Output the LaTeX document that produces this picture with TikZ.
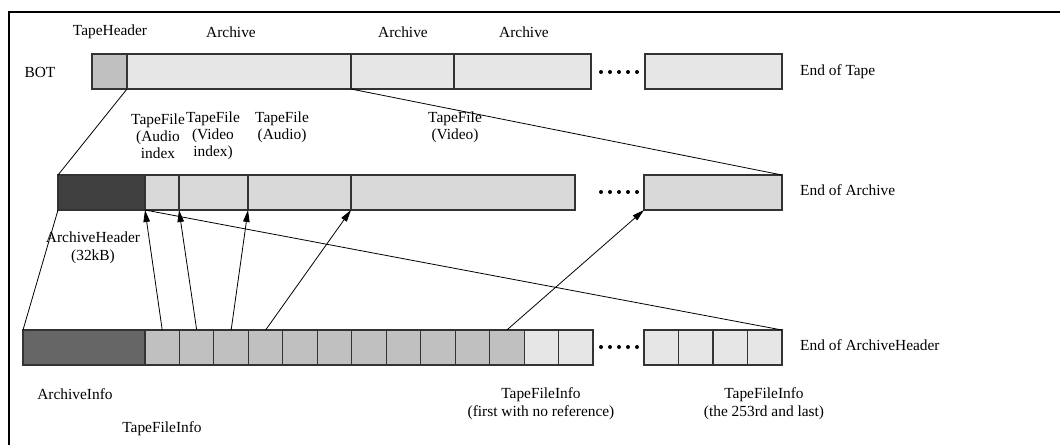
\documentclass[tikz,border=0pt]{standalone}
\usepackage{fontspec}
\setmainfont{Liberation Serif}
\usetikzlibrary{arrows.meta}
\definecolor{hdrgrey}{HTML}{C0C0C0}
\definecolor{lightgrey}{HTML}{E6E6E6}
\definecolor{midlight}{HTML}{D9D9D9}
\definecolor{darkhdr}{HTML}{404040}
\definecolor{infodark}{HTML}{666666}
\begin{document}
\begin{tikzpicture}[x=1pt,y=-1pt,
  every node/.style={font=\fontsize{15.4}{18}\selectfont},
  cell/.style={rectangle, draw=black!80, line width=1.1pt, inner sep=0pt, outer sep=0pt,
               anchor=north west, minimum height=35pt},
  lbl/.style={inner sep=0pt, align=center},
  conn/.style={line width=0.8pt},
  ptr/.style={conn, -{Triangle[length=12pt,width=6.5pt]}},
  frame/.style={line width=2pt}
]
\useasboundingbox (0,0) rectangle (1060,445);

% outer frame
\draw[frame] (9,445) -- (9,12) -- (1061,12);

% ---------- tape ----------
\node[cell, fill=hdrgrey,   minimum width=35pt]  (th)  at (92,54)  {};
\node[cell, fill=lightgrey, minimum width=224pt] (ar1) at (127,54) {};
\node[cell, fill=lightgrey, minimum width=103pt] (ar2) at (351,54) {};
\node[cell, fill=lightgrey, minimum width=137pt] (ar3) at (454,54) {};
\node[cell, fill=lightgrey, minimum width=137pt] (tl)  at (645,54) {};
\foreach \k in {0,...,4} \fill (601+9*\k,72) circle (2pt);

\node[lbl] (bot)  at (40,72)  {BOT};
\node[lbl, anchor=west] (eot) at (800,72) {End of Tape};
\node[lbl] (lth)  at (110,32) {TapeHeader};
\node[lbl] (lar1) at (231,32) {Archive};
\node[lbl] (lar2) at (403,32) {Archive};
\node[lbl] (lar3) at (524,32) {Archive};

% ---------- archive ----------
\node[cell, fill=darkhdr,  minimum width=87pt]  (ahd) at (58,175)  {};
\node[cell, fill=midlight, minimum width=34pt]  (af1) at (145,175) {};
\node[cell, fill=midlight, minimum width=69pt]  (af2) at (179,175) {};
\node[cell, fill=midlight, minimum width=103pt] (af3) at (248,175) {};
\node[cell, fill=midlight, minimum width=224pt] (af4) at (351,175) {};
\node[cell, fill=midlight, minimum width=138pt] (al)  at (644,175) {};
\foreach \k in {0,...,4} \fill (601+9*\k,192) circle (2pt);

\node[lbl, anchor=west] (eoa) at (800,190) {End of Archive};
\node[lbl] (ltf1) at (158,136) {TapeFile\\[-1pt](Audio\\[-1pt]index};
\node[lbl] (ltf2) at (213,136) {TapeFile\\[-1pt](Video\\[-1pt]index)};
\node[lbl] (ltf3) at (282,127) {TapeFile\\[-1pt](Audio)};
\node[lbl] (ltf4) at (455,127) {TapeFile\\[-1pt](Video)};
\node[lbl] (lahd) at (93,248) {ArchiveHeader\\(32kB)};

% ---------- archive header ----------
\node[cell, fill=infodark, minimum width=122pt] (ai) at (23,330) {};
\foreach \i in {1,...,11}
  \node[cell, fill=hdrgrey, minimum width=34.46pt] (c\i) at ({145+(\i-1)*34.46},330) {};
\foreach \i in {12,13}
  \node[cell, fill=lightgrey, minimum width=34.46pt] (c\i) at ({145+(\i-1)*34.46},330) {};
\foreach \i in {1,...,4}
  \node[cell, fill=lightgrey, minimum width=34.5pt] (d\i) at ({644+(\i-1)*34.5},330) {};
\foreach \k in {0,...,4} \fill (601+9*\k,347) circle (2pt);

\node[lbl, anchor=west] (eoh) at (800,345) {End of ArchiveHeader};
\node[lbl] (lai)  at (75,394)  {ArchiveInfo};
\node[lbl] (ltfi) at (162,429) {TapeFileInfo};
\node[lbl] (lnr)  at (541,404) {TapeFileInfo\\(first with no reference)};
\node[lbl] (llast) at (764,404) {TapeFileInfo\\(the 253rd and last)};

% ---------- expansion lines ----------
\draw[conn] (th.south east)  -- (ahd.north west);
\draw[conn] (ar1.south east) -- (al.north east);
\draw[conn] (ahd.south west) -- (ai.north west);
\draw[conn] (ahd.south east) -- (d4.north east);

% ---------- references ----------
\draw[ptr] (c1.north)  -- (af1.south west);
\draw[ptr] (c2.north)  -- (af2.south west);
\draw[ptr] (c3.north)  -- (af3.south west);
\draw[ptr] (c4.north)  -- (af4.south west);
\draw[ptr] (c11.north) -- (al.south west);
\end{tikzpicture}
\end{document}
